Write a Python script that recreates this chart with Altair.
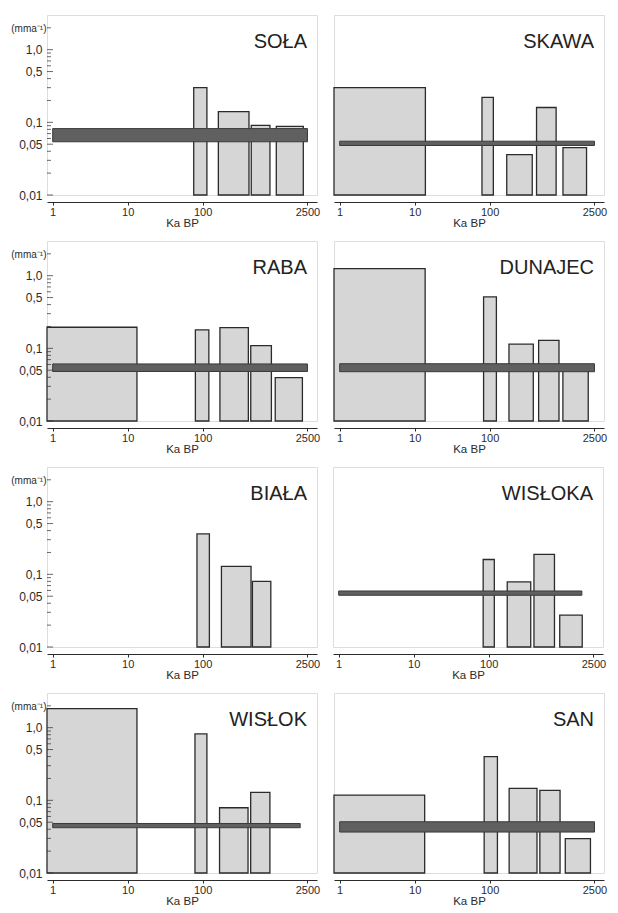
import altair as alt
import pandas as pd

# ---------------- data ----------------
rivers = ["SOŁA", "SKAWA", "RABA", "DUNAJEC", "BIAŁA", "WISŁOKA", "WISŁOK", "SAN"]

X_MIN, X_MAX = 0.84, 3350
Y_MIN, Y_MAX = 0.01, 3.0

x_tick_values = [1, 10, 100, 2500]
y_major_values = [0.01, 0.05, 0.1, 0.5, 1.0]
y_major_labels = ["0,01", "0,05", "0,1", "0,5", "1,0"]
y_minor_values = [0.02, 0.03, 0.04, 0.06, 0.07, 0.08, 0.09,
                  0.2, 0.3, 0.4, 0.6, 0.7, 0.8, 0.9, 2.0]

# rate-of-incision bars (ka BP interval, rate in mm/a)
bar_river = ["SOŁA"] * 4 + ["SKAWA"] * 5 + ["RABA"] * 5 + ["DUNAJEC"] * 5 + \
            ["BIAŁA"] * 3 + ["WISŁOKA"] * 4 + ["WISŁOK"] * 4 + ["SAN"] * 5
bar_start = [76, 162, 445, 960,
             X_MIN, 79, 169, 422, 950,
             X_MIN, 80, 170, 438, 929,
             X_MIN, 83, 181, 450, 948,
             84, 178, 461,
             84.5, 177, 402, 887,
             X_MIN, 79, 168, 437,
             X_MIN, 84.5, 182, 467, 1020]
bar_end = [114, 415, 790, 2200,
           13.9, 112, 370, 770, 1960,
           13.3, 121, 407, 826, 2140,
           13.8, 123, 382, 841, 2065,
           123, 442, 811,
           119, 364, 755, 1770,
           13.3, 114, 403, 789,
           13.6, 127, 428, 869, 2210]
bar_rate = [0.30, 0.14, 0.091, 0.088,
            0.30, 0.22, 0.036, 0.16, 0.045,
            0.195, 0.18, 0.193, 0.109, 0.0395,
            1.25, 0.51, 0.114, 0.129, 0.057,
            0.36, 0.129, 0.080,
            0.16, 0.0785, 0.188, 0.0274,
            1.83, 0.82, 0.079, 0.129,
            0.118, 0.40, 0.146, 0.137, 0.0297]

# long-term mean rate bands
band_river = ["SOŁA", "SKAWA", "RABA", "DUNAJEC", "WISŁOKA", "WISŁOK", "SAN"]
band_start = [1, 1, 1, 1, 1, 1, 1]
band_end = [2500, 2500, 2500, 2500, 1750, 2000, 2500]
band_low = [0.054, 0.048, 0.048, 0.0477, 0.0515, 0.042, 0.0366]
band_high = [0.082, 0.055, 0.061, 0.0614, 0.059, 0.048, 0.0507]

bars = pd.DataFrame({"river": bar_river, "start": bar_start,
                     "end": bar_end, "rate": bar_rate})
bands = pd.DataFrame({"river": band_river, "start": band_start, "end": band_end,
                      "low": band_low, "high": band_high})
ticks_major = pd.DataFrame({"v": y_major_values})
ticks_minor = pd.DataFrame({"v": y_minor_values})

# ---------------- styling ----------------
W, H = 270, 180
FONT = "Liberation Sans"
INK = "#2b2b2b"

label_expr = "''"
for v, l in reversed(list(zip(y_major_values, y_major_labels))):
    label_expr = f"abs(datum.value - {v}) < {v * 1e-3} ? '{l}' : ({label_expr})"

xs = alt.Scale(type="log", domain=[X_MIN, X_MAX], nice=False)
ys = alt.Scale(type="log", domain=[Y_MIN, Y_MAX], nice=False)

x_axis = alt.Axis(values=x_tick_values, format="d", title="Ka BP", offset=7,
                  tickSize=3, labelPadding=1, labelFontSize=11, labelFont=FONT,
                  titleFont=FONT, titleFontSize=11.5, titleFontWeight="normal",
                  titlePadding=0, domainColor=INK, domainWidth=1.2, tickColor=INK,
                  labelColor=INK, titleColor=INK, grid=False, labelFlush=False,
                  labelOverlap=False)

y_axis_left = alt.Axis(values=y_major_values, labelExpr=label_expr,
                       title="(mma⁻¹)", titleAngle=0,
                       titleAlign="right", titleBaseline="alphabetic",
                       titleX=-1, titleY=16, titleFont=FONT, titleFontSize=10,
                       titleFontWeight="normal", titleColor=INK,
                       domain=False, ticks=False,
                       labelPadding=5, labelFontSize=12, labelFont=FONT,
                       labelColor=INK, grid=False, labelOverlap=False)


def panel(name, left):
    yax = y_axis_left if left else None
    b = bars[bars.river == name]
    layers = [
        alt.Chart(b).mark_rect(fill="#d6d6d6", stroke=INK, strokeWidth=1.3).encode(
            x=alt.X("start:Q", scale=xs, axis=x_axis),
            x2="end:Q",
            y=alt.Y("rate:Q", scale=ys, axis=yax),
            y2=alt.datum(Y_MIN),
        )
    ]
    bd = bands[bands.river == name]
    if len(bd):
        layers.append(
            alt.Chart(bd).mark_rect(fill="#606060", stroke="#3a3a3a", strokeWidth=1).encode(
                x=alt.X("start:Q", scale=xs, axis=x_axis),
                x2="end:Q",
                y=alt.Y("low:Q", scale=ys, axis=yax),
                y2="high:Q",
            )
        )
    if left:
        layers.append(
            alt.Chart(ticks_major).mark_tick(color=INK, thickness=1, size=6).encode(
                y=alt.Y("v:Q", scale=ys, axis=yax), x=alt.value(3))
        )
        layers.append(
            alt.Chart(ticks_minor).mark_tick(color=INK, thickness=1, size=4).encode(
                y=alt.Y("v:Q", scale=ys, axis=yax), x=alt.value(2))
        )
    layers.append(
        alt.Chart(pd.DataFrame({"river": [name]})).mark_text(
            align="right", baseline="alphabetic", fontSize=20, font=FONT, color="#222"
        ).encode(x=alt.value(W - 10), y=alt.value(33), text="river:N")
    )
    return alt.layer(*layers).properties(width=W, height=H)


rows = []
for i in range(0, 8, 2):
    rows.append(alt.hconcat(panel(rivers[i], True), panel(rivers[i + 1], False), spacing=11))

chart = alt.vconcat(*rows, spacing=11).properties(
    padding={"left": 2, "top": 6, "right": 0, "bottom": 0}
).configure_view(stroke=INK, strokeWidth=1.3).configure(font=FONT, background="white")

chart.save("out.html", embed_options={"renderer": "svg", "actions": False})
